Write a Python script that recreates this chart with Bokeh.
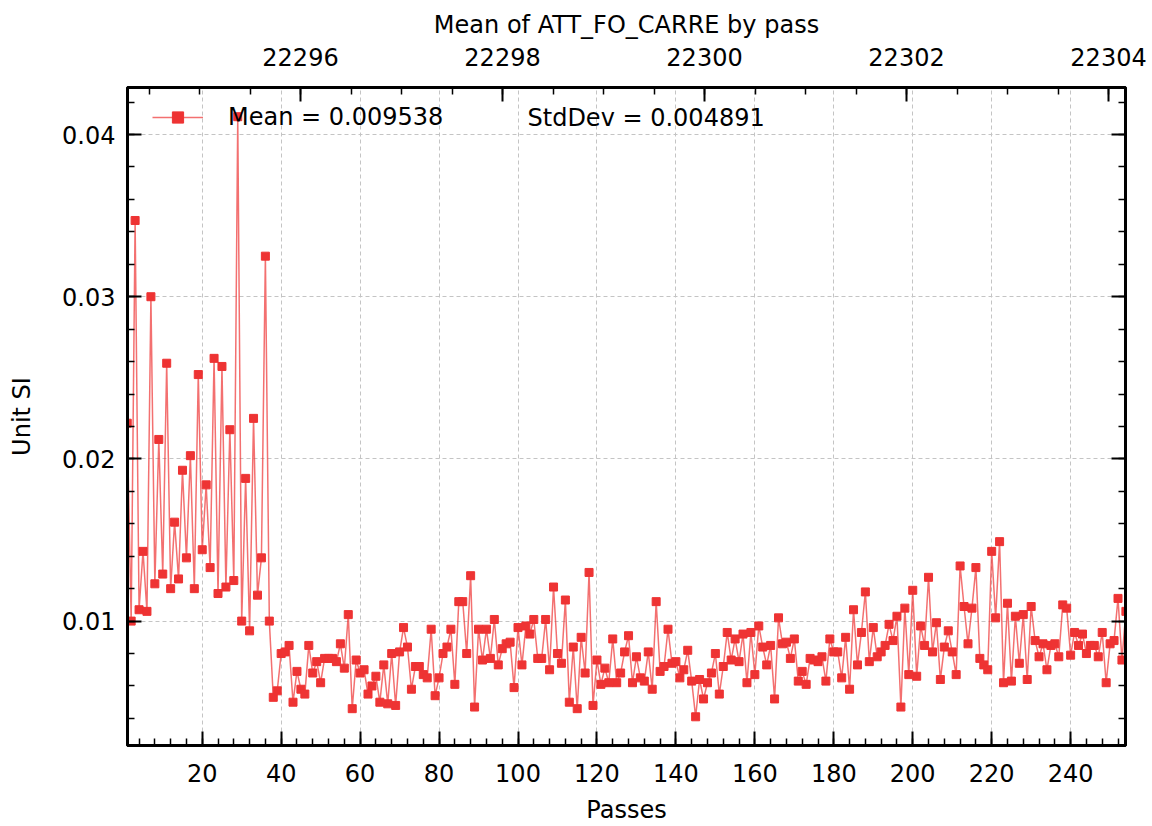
from bokeh.plotting import figure
from bokeh.models import (Range1d, LinearAxis, SingleIntervalTicker, Legend, LegendItem,
                          Label, BasicTickFormatter, CustomJSTickFormatter)
from bokeh.embed import file_html
from bokeh.resources import INLINE

# ---------------- data ----------------
passes = list(range(1, 255))
att_fo_carre_mean = [
    0.0222, 0.0100, 0.0347, 0.0107, 0.0143, 0.0106, 0.0300, 0.0123, 0.0212, 0.0129,
    0.0259, 0.0120, 0.0161, 0.0126, 0.0193, 0.0139, 0.0202, 0.0120, 0.0252, 0.0144,
    0.0184, 0.0133, 0.0262, 0.0117, 0.0257, 0.0121, 0.0218, 0.0125, 0.0411, 0.0100,
    0.0188, 0.0094, 0.0225, 0.0116, 0.0139, 0.0325, 0.0100, 0.0053, 0.0057, 0.0080,
    0.0081, 0.0085, 0.0050, 0.0069, 0.0058, 0.0055, 0.0085, 0.0068, 0.0075, 0.0062,
    0.0077, 0.0077, 0.0077, 0.0075, 0.0086, 0.0071, 0.0104, 0.0046, 0.0076, 0.0068,
    0.0070, 0.0055, 0.0060, 0.0066, 0.0050, 0.0073, 0.0049, 0.0080, 0.0048, 0.0081,
    0.0096, 0.0084, 0.0058, 0.0072, 0.0072, 0.0067, 0.0065, 0.0095, 0.0054, 0.0065,
    0.0080, 0.0084, 0.0095, 0.0061, 0.0112, 0.0112, 0.0080, 0.0128, 0.0047, 0.0095,
    0.0076, 0.0095, 0.0077, 0.0101, 0.0073, 0.0083, 0.0086, 0.0087, 0.0059, 0.0096,
    0.0073, 0.0097, 0.0092, 0.0101, 0.0077, 0.0077, 0.0101, 0.0070, 0.0121, 0.0080,
    0.0074, 0.0113, 0.0050, 0.0084, 0.0046, 0.0090, 0.0068, 0.0130, 0.0048, 0.0076,
    0.0061, 0.0071, 0.0062, 0.0089, 0.0062, 0.0068, 0.0081, 0.0091, 0.0062, 0.0078,
    0.0065, 0.0063, 0.0081, 0.0058, 0.0112, 0.0069, 0.0072, 0.0095, 0.0074, 0.0075,
    0.0065, 0.0070, 0.0082, 0.0063, 0.0041, 0.0064, 0.0052, 0.0062, 0.0068, 0.0080,
    0.0055, 0.0072, 0.0093, 0.0076, 0.0089, 0.0075, 0.0092, 0.0062, 0.0093, 0.0067,
    0.0097, 0.0084, 0.0073, 0.0085, 0.0052, 0.0102, 0.0086, 0.0087, 0.0077, 0.0089,
    0.0063, 0.0069, 0.0061, 0.0077, 0.0076, 0.0075, 0.0078, 0.0063, 0.0089, 0.0081,
    0.0081, 0.0065, 0.0090, 0.0058, 0.0107, 0.0073, 0.0093, 0.0118, 0.0075, 0.0096,
    0.0078, 0.0081, 0.0085, 0.0098, 0.0088, 0.0103, 0.0047, 0.0108, 0.0067, 0.0119,
    0.0066, 0.0097, 0.0085, 0.0127, 0.0081, 0.0099, 0.0064, 0.0084, 0.0094, 0.0081,
    0.0067, 0.0134, 0.0109, 0.0086, 0.0108, 0.0133, 0.0077, 0.0073, 0.0070, 0.0143,
    0.0102, 0.0149, 0.0062, 0.0111, 0.0063, 0.0103, 0.0074, 0.0104, 0.0064, 0.0109,
    0.0088, 0.0078, 0.0086, 0.0070, 0.0085, 0.0086, 0.0078, 0.0110, 0.0108, 0.0079,
    0.0093, 0.0085, 0.0092, 0.0080, 0.0085, 0.0085, 0.0078, 0.0093, 0.0062, 0.0086,
    0.0088, 0.0114, 0.0076, 0.0106,
]
x_limits = (1.07, 253.9)
y_limits = (0.00233, 0.0429)
top_limits = (22294.287, 22304.168)   # secondary (top) axis values
title_text = "Mean of ATT_FO_CARRE by pass"
x_label = "Passes"
y_label = "Unit SI"
legend_mean = "Mean = 0.009538"
legend_std = "StdDev = 0.004891"

# ---------------- style ----------------
FONT = "DejaVu Sans"
FS = "24px"
RED = "#ee3333"

p = figure(width=1152, height=826,
           min_border_left=127, min_border_right=27, min_border_top=87, min_border_bottom=78,
           x_range=Range1d(*x_limits), y_range=Range1d(*y_limits),
           output_backend="svg", toolbar_location=None)
p.background_fill_color = "white"
p.border_fill_color = "white"
p.outline_line_color = "black"
p.outline_line_width = 3

p.title.text = title_text
p.title.align = "center"
p.title.text_font = FONT
p.title.text_font_size = FS
p.title.text_font_style = "normal"
p.title.text_color = "black"
p.title.standoff = 11

xt = SingleIntervalTicker(interval=20, num_minor_ticks=5)
yt = SingleIntervalTicker(interval=0.01, num_minor_ticks=5)
tt = SingleIntervalTicker(interval=2, num_minor_ticks=4)

bottom = p.below[0]
left = p.left[0]
bottom.ticker = xt
left.ticker = yt
p.xgrid.ticker = xt
p.ygrid.ticker = yt
left.formatter = BasicTickFormatter(use_scientific=False)

p.extra_x_ranges = {"top": Range1d(*top_limits)}
top = LinearAxis(x_range_name="top", ticker=tt,
                 formatter=BasicTickFormatter(use_scientific=False))
right = LinearAxis(ticker=yt, formatter=CustomJSTickFormatter(code="return ''"))
p.add_layout(top, "above")
p.add_layout(right, "right")

for ax in (bottom, left, top, right):
    ax.axis_line_width = 3
    ax.axis_line_color = "black"
    ax.major_tick_in = 14
    ax.major_tick_out = 0
    ax.minor_tick_in = 7
    ax.minor_tick_out = 0
    ax.major_tick_line_width = 2
    ax.minor_tick_line_width = 1.5
    ax.major_tick_line_color = "black"
    ax.minor_tick_line_color = "black"
    ax.major_label_text_font = FONT
    ax.major_label_text_font_size = FS
    ax.major_label_text_color = "black"
    ax.axis_label_text_font = FONT
    ax.axis_label_text_font_size = FS
    ax.axis_label_text_font_style = "normal"
    ax.axis_label_text_color = "black"

bottom.axis_label = x_label
bottom.major_label_standoff = 18
bottom.axis_label_standoff = 11
left.axis_label = y_label
left.major_label_standoff = 12
left.axis_label_standoff = 23
top.major_label_standoff = 22
right.major_label_standoff = 0

for g in (p.xgrid, p.ygrid):
    g.grid_line_color = "#c4c4c4"
    g.grid_line_dash = "4 3"
    g.grid_line_width = 1

line_r = p.line(passes, att_fo_carre_mean, line_color=RED, line_alpha=0.7, line_width=1.5)
scat_r = p.scatter(passes, att_fo_carre_mean, marker="square", size=8,
                   fill_color=RED, line_color=RED)

legend = Legend(items=[LegendItem(label=legend_mean, renderers=[line_r, scat_r])],
                location=(25, 614), orientation="horizontal",
                glyph_width=51, glyph_height=28, label_height=28, label_standoff=25,
                padding=0, margin=0, spacing=0,
                label_text_font=FONT, label_text_font_size=FS, label_text_color="black",
                background_fill_alpha=0, border_line_color=None)
p.add_layout(legend)

p.add_layout(Label(x=400, y=628, x_units="screen", y_units="screen", text=legend_std,
                   text_font=FONT, text_font_size=FS, text_color="black",
                   text_baseline="middle", text_align="left"))

open("out.html", "w").write(file_html(p, INLINE))
